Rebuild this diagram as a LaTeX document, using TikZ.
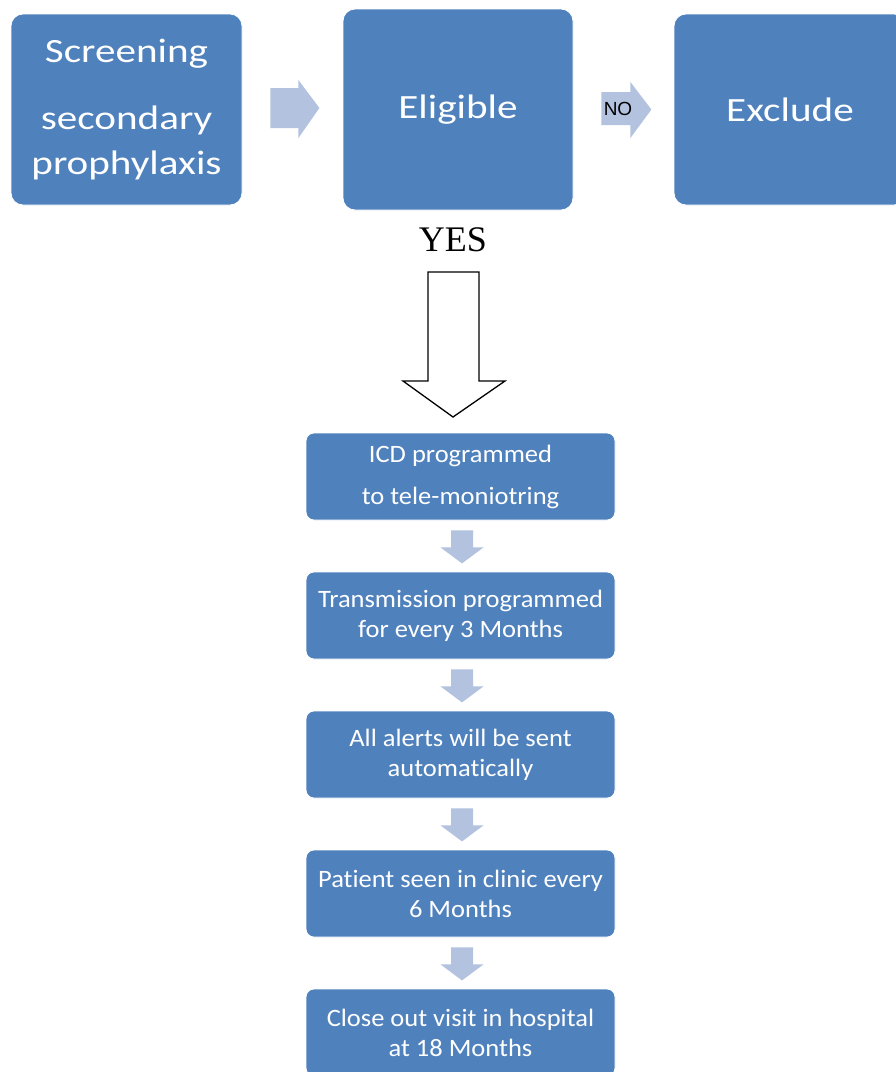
\documentclass[tikz,border=0pt]{standalone}
\usepackage{fontspec}
\setmainfont[Ligatures=NoCommon]{Carlito}
\newfontfamily\topfont[FakeStretch=1.21,Ligatures=NoCommon]{Carlito}
\newfontfamily\stepfont[FakeStretch=1.06,Ligatures=NoCommon]{Carlito}
\newfontfamily\yesfont{Liberation Serif}
\newfontfamily\nofont{Liberation Sans}
\usetikzlibrary{calc}
\definecolor{boxblue}{HTML}{4F81BD}
\definecolor{arrowblue}{HTML}{B3C3DF}

% light block arrow pointing down, hanging below node #1
\newcommand\stepdown[1]{%
  \fill[arrowblue] ($(#1.south)+(-9.5,10)$) -- ($(#1.south)+(12.5,10)$)
    -- ($(#1.south)+(12.5,27)$) -- ($(#1.south)+(23,27)$)
    -- ($(#1.south)+(1.5,43)$) -- ($(#1.south)+(-20,27)$)
    -- ($(#1.south)+(-9.5,27)$) -- cycle;}

\begin{document}
\begin{tikzpicture}[x=1pt,y=-1pt,
  topbox/.style={fill=boxblue, draw=white, line width=0.8pt, rounded corners=12pt,
    minimum width=231pt, minimum height=191pt, inner sep=0pt, text=white,
    align=center, font=\topfont\fontsize{34}{45}\selectfont},
  stepbox/.style={fill=boxblue, draw=white, line width=0.8pt, rounded corners=8pt,
    minimum width=309pt, minimum height=87pt, inner sep=0pt, text=white,
    align=center, font=\stepfont\fontsize{25}{30}\selectfont},
  blockarrow/.style={fill=arrowblue},
  yesarrow/.style={draw=black, line width=1.3pt, fill=white, line join=miter}]
\useasboundingbox (0,0) rectangle (896,1072);
\fill[white] (0,0) rectangle (896,1072);
\clip (0,0) rectangle (896,1072);

% top row
\node[topbox] (screen) at (126.5,109.5) {Screening\\[22pt]secondary\\prophylaxis};
\node[topbox, minimum width=230pt, minimum height=201pt] (elig) at (458,109.5) {Eligible};
\node[topbox, minimum width=232pt] (excl) at (790,109.5) {Exclude};

% block arrows of the top row
\fill[blockarrow] ($(screen.east)+(28,-21.5)$) -- ($(screen.east)+(56,-21.5)$)
  -- ($(screen.east)+(56,-29.5)$) -- ($(screen.east)+(77,-1.5)$)
  -- ($(screen.east)+(56,28.5)$) -- ($(screen.east)+(56,18.5)$)
  -- ($(screen.east)+(28,18.5)$) -- cycle;
\fill[blockarrow] ($(elig.east)+(28,-17.5)$) -- ($(elig.east)+(57,-17.5)$)
  -- ($(elig.east)+(57,-27.5)$) -- ($(elig.east)+(78,0)$)
  -- ($(elig.east)+(57,28.5)$) -- ($(elig.east)+(57,15.5)$)
  -- ($(elig.east)+(28,15.5)$) -- cycle;
\node[font=\nofont\fontsize{19}{22}\selectfont, inner sep=0pt] (no) at (618,108.5) {NO};

% YES branch
\node[font=\yesfont\fontsize{36}{40}\selectfont, inner sep=0pt] (yes) at (453,240) {YES};
\draw[yesarrow] (428,272) -- (479,272) -- (479,381) -- (505,381) -- (453,417)
  -- (403,381) -- (428,381) -- cycle;

% follow-up steps
\node[stepbox] (s1) at (460.5,476.5) {ICD programmed\\[12pt]to tele-moniotring};
\node[stepbox] (s2) at (460.5,615.5) {Transmission programmed\\for every 3 Months};
\node[stepbox] (s3) at (460.5,754.5) {All alerts will be sent\\automatically};
\node[stepbox] (s4) at (460.5,893.5) {Patient seen in clinic every\\6 Months};
\node[stepbox] (s5) at (460.5,1032.5) {Close out visit in hospital\\at 18 Months};

\stepdown{s1}
\stepdown{s2}
\stepdown{s3}
\stepdown{s4}
\end{tikzpicture}
\end{document}
